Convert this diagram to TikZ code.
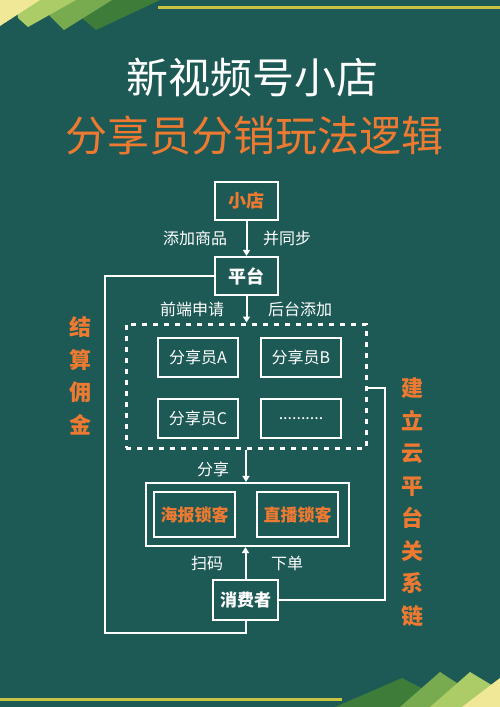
\documentclass[tikz,border=0pt]{standalone}
\usepackage{fontspec}
\setmainfont{Noto Sans CJK SC}
\usetikzlibrary{arrows.meta}
\definecolor{bgteal}{RGB}{29,90,85}
\definecolor{txtorange}{RGB}{238,122,50}
\definecolor{lineyellow}{RGB}{200,196,66}
\definecolor{leafdark}{RGB}{62,124,58}
\definecolor{leafmid}{RGB}{120,170,80}
\definecolor{leaflight}{RGB}{172,204,104}
\definecolor{leafpale}{RGB}{240,232,150}
\tikzset{
  box/.style={draw=white, line width=2.2pt, inner sep=0pt, text=white},
  keybox/.style={box, minimum width=63pt, minimum height=38pt, font=\bfseries\fontsize{18}{20}\selectfont},
  member/.style={box, minimum width=80pt, minimum height=39pt, font=\fontsize{16}{18}\selectfont},
  lockin/.style={box, minimum width=81pt, minimum height=45pt, text=txtorange, font=\bfseries\fontsize{17}{19}\selectfont},
  flowlabel/.style={text=white, inner sep=0pt, font=\fontsize{16}{18}\selectfont},
  sidelabel/.style={text=txtorange, inner sep=0pt, align=center, font=\bfseries\fontsize{22}{32.5}\selectfont},
  link/.style={draw=white, line width=2pt},
  flow/.style={link, -{Triangle[width=7pt,length=6pt]}}
}
\begin{document}
\begin{tikzpicture}[x=1pt,y=1pt,yscale=-1,xscale=1]
% Background
\fill[bgteal] (0,0) rectangle (500,707);
\useasboundingbox (0,0) rectangle (500,707);
%Shape: top left leaves
\fill[leafdark] (74,0) -- (160,0) -- (96,30) -- (82,18) -- cycle;
\fill[leafmid] (42,0) -- (112,0) -- (64,30) -- (50,16) -- cycle;
\fill[leaflight] (16,0) -- (76,0) -- (28,27) -- (18,18) -- cycle;
\fill[leafpale] (0,0) -- (40,0) -- (0,26) -- cycle;
%Shape: bottom right leaves
\fill[leafdark] (335,707) -- (402,678) -- (458,707) -- cycle;
\fill[leafmid] (400,707) -- (440,672) -- (480,698) -- (470,707) -- cycle;
\fill[leaflight] (430,707) -- (470,672) -- (500,690) -- (500,707) -- cycle;
\fill[leafpale] (462,707) -- (500,678) -- (500,707) -- cycle;
%Shape: lines
\draw[lineyellow, line width=3pt] (158,7) -- (500,7);
\draw[lineyellow, line width=3pt] (0,699) -- (342,699);
% Title
\node (title) [text=white, font=\fontsize{42}{46}\selectfont] at (252,78) {新视频号小店};
\node (subtitle) [text=txtorange, font=\fontsize{42}{46}\selectfont] at (254,135) {分享员分销玩法逻辑};
% Flow nodes
\node (shop) [keybox, text=txtorange] at (246.5,201) {小店};
\node (platform) [keybox] at (246.5,276) {平台};
\node (frame) [draw=white, line width=3pt, dash pattern=on 5pt off 6pt, minimum width=240pt, minimum height=124pt] at (246,386) {};
\node (memA) [member] at (198,357.5) {分享员A};
\node (memB) [member] at (301,357.5) {分享员B};
\node (memC) [member] at (198,418.5) {分享员C};
\node (memD) [member] at (301,418.5) {..........};
\node (lockbox) [box, minimum width=203pt, minimum height=63pt] at (247.5,514.5) {};
\node (poster) [lockin] at (194.5,514.5) {海报锁客};
\node (live) [lockin] at (297.5,514.5) {直播锁客};
\node (consumer) [keybox, minimum width=65pt, minimum height=40pt, font=\bfseries\fontsize{17}{19}\selectfont] at (245.5,600) {消费者};
% Text Node
\node (addgoods) [flowlabel] at (195,238) {添加商品};
\node (sync) [flowlabel] at (287,238) {并同步};
\node (apply) [flowlabel] at (192,309) {前端申请};
\node (backadd) [flowlabel] at (300,309) {后台添加};
\node (sharelbl) [flowlabel] at (213,469) {分享};
\node (scan) [flowlabel] at (207,563) {扫码};
\node (order) [flowlabel] at (287,563) {下单};
\node (commission) [sidelabel] at (80,376) {结\\算\\佣\\金};
\node (relation) [sidelabel] at (412,502) {建\\立\\云\\平\\台\\关\\系\\链};
% Connectors
\coordinate (leftcorner) at (105,633);
\coordinate (rightcorner) at (385,388);
\draw[flow] (shop.south) -- (shop.south |- platform.north);
\draw[flow] (platform.south) -- (platform.south |- frame.north);
\draw[flow] (frame.south) -- (frame.south |- lockbox.north);
\draw[flow] (consumer.north) -- (consumer.north |- lockbox.south);
\draw[link] (platform.west) -| (leftcorner) -| (consumer.south);
\draw[link] (consumer.east) -| (rightcorner) -- (frame.east |- rightcorner);
\end{tikzpicture}
\end{document}
